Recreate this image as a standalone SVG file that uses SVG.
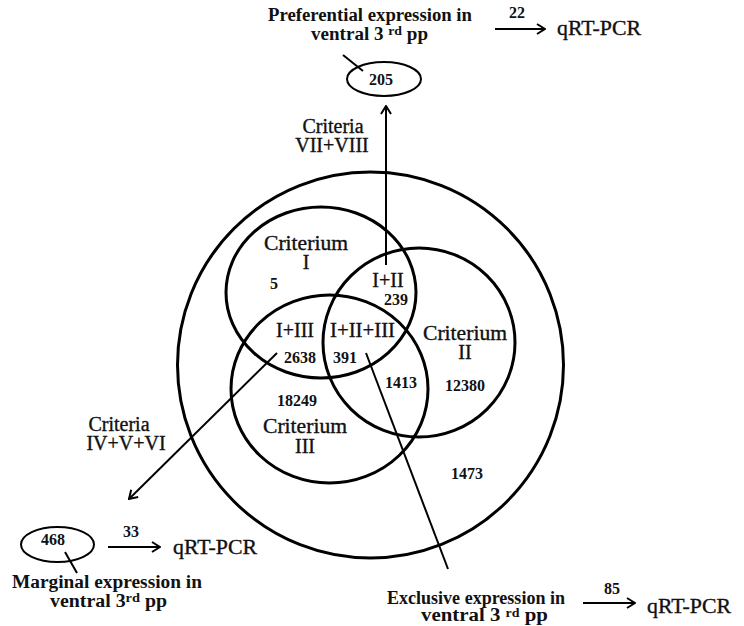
<svg xmlns="http://www.w3.org/2000/svg" width="744" height="626" viewBox="0 0 744 626">
<style>
.c{fill:none;stroke:#000;stroke-width:3}
.l{fill:none;stroke:#000;stroke-width:2}
.e{fill:none;stroke:#000;stroke-width:2}
.t{font-family:"Liberation Serif","Times New Roman",serif;font-size:20px;fill:#111;stroke:#111;stroke-width:0.35;text-anchor:middle}
.b{font-family:"Liberation Serif","Times New Roman",serif;font-weight:bold;font-size:18px;fill:#111}
.n{font-family:"Liberation Serif","Times New Roman",serif;font-weight:bold;font-size:16px;fill:#111;text-anchor:middle}
.q{font-family:"Liberation Serif","Times New Roman",serif;font-size:21px;fill:#111;stroke:#111;stroke-width:0.35}
</style>
<defs>
<marker id="ah" viewBox="0 0 10 12" refX="9" refY="6" markerWidth="10" markerHeight="12" markerUnits="userSpaceOnUse" orient="auto">
<path d="M1,1 L9,6 L1,11" fill="none" stroke="#000" stroke-width="2"/>
</marker>
</defs>
<rect width="744" height="626" fill="#fff"/>

<g id="outer">
<circle class="c" cx="370.5" cy="365" r="193"/>
<text class="n" x="467" y="479">1473</text>
</g>
<g id="criterium-I">
<ellipse class="c" cx="321" cy="292.5" rx="95" ry="85.5"/>
<text class="t" x="306" y="250" textLength="84" lengthAdjust="spacingAndGlyphs">Criterium</text>
<text class="t" x="306" y="269">I</text>
<text class="n" x="274" y="289">5</text>
</g>
<g id="criterium-II">
<ellipse class="c" cx="419" cy="342.5" rx="96" ry="94.5"/>
<text class="t" x="465" y="340" textLength="84" lengthAdjust="spacingAndGlyphs">Criterium</text>
<text class="t" x="465" y="359">II</text>
<text class="n" x="465" y="391">12380</text>
</g>
<g id="criterium-III">
<ellipse class="c" cx="329.5" cy="389" rx="98.5" ry="94"/>
<text class="t" x="305" y="433" textLength="84" lengthAdjust="spacingAndGlyphs">Criterium</text>
<text class="t" x="305" y="453">III</text>
<text class="n" x="297" y="406">18249</text>
</g>
<g id="intersections">
<text class="t" x="388" y="287">I+II</text>
<text class="n" x="396" y="305">239</text>
<text class="t" x="295" y="337">I+III</text>
<text class="n" x="300" y="363">2638</text>
<text class="t" x="362.5" y="337" textLength="65" lengthAdjust="spacingAndGlyphs">I+II+III</text>
<text class="n" x="345" y="363">391</text>
<text class="n" x="401" y="388">1413</text>
</g>

<g id="preferential">
<ellipse class="e" cx="384" cy="79" rx="37" ry="17"/>
<text class="n" x="381" y="85">205</text>
<text class="b" x="370" y="21" text-anchor="middle" textLength="204" lengthAdjust="spacingAndGlyphs">Preferential expression in</text>
<text class="b" x="311" y="40" textLength="117" lengthAdjust="spacingAndGlyphs">ventral 3 <tspan font-size="13" dy="-5">rd</tspan><tspan dy="5"> pp</tspan></text>
<text class="n" x="517" y="18">22</text>
<text class="q" x="557" y="35" textLength="84" lengthAdjust="spacingAndGlyphs">qRT-PCR</text>
</g>
<g id="marginal">
<ellipse class="e" cx="57.5" cy="544.5" rx="36.5" ry="17.5"/>
<text class="n" x="53" y="545">468</text>
<text class="b" x="107" y="588" text-anchor="middle" textLength="190" lengthAdjust="spacingAndGlyphs">Marginal expression in</text>
<text class="b" x="50" y="607" textLength="117" lengthAdjust="spacingAndGlyphs">ventral 3<tspan font-size="13" dy="-5">rd</tspan><tspan dy="5"> pp</tspan></text>
<text class="n" x="131" y="537">33</text>
<text class="q" x="173" y="554" textLength="84" lengthAdjust="spacingAndGlyphs">qRT-PCR</text>
</g>
<g id="exclusive">
<text class="b" x="476" y="604" font-size="17" text-anchor="middle" textLength="178" lengthAdjust="spacingAndGlyphs">Exclusive expression in</text>
<text class="b" x="421" y="621" font-size="17" textLength="127" lengthAdjust="spacingAndGlyphs">ventral 3 <tspan font-size="12" dy="-4">rd</tspan><tspan dy="4"> pp</tspan></text>
<text class="n" x="612" y="594">85</text>
<text class="q" x="647" y="613" textLength="84" lengthAdjust="spacingAndGlyphs">qRT-PCR</text>
</g>
<g id="criteria-labels">
<text class="t" x="333" y="133">Criteria</text>
<text class="t" x="332" y="152">VII+VIII</text>
<text class="t" x="119" y="431">Criteria</text>
<text class="t" x="126" y="450">IV+V+VI</text>
</g>

<g id="connectors">
<line class="l" x1="386" y1="265" x2="386" y2="106" marker-end="url(#ah)"/>
<line class="l" x1="277" y1="353" x2="129" y2="499" marker-end="url(#ah)"/>
<line class="l" x1="366" y1="353" x2="448" y2="569"/>
<line class="l" x1="343" y1="55" x2="363" y2="71"/>
<line class="l" x1="65" y1="552" x2="77" y2="573"/>
<line class="l" x1="495" y1="29" x2="545" y2="29" marker-end="url(#ah)"/>
<line class="l" x1="108" y1="547" x2="160" y2="547" marker-end="url(#ah)"/>
<line class="l" x1="583" y1="603" x2="635" y2="603" marker-end="url(#ah)"/>
</g>
</svg>
